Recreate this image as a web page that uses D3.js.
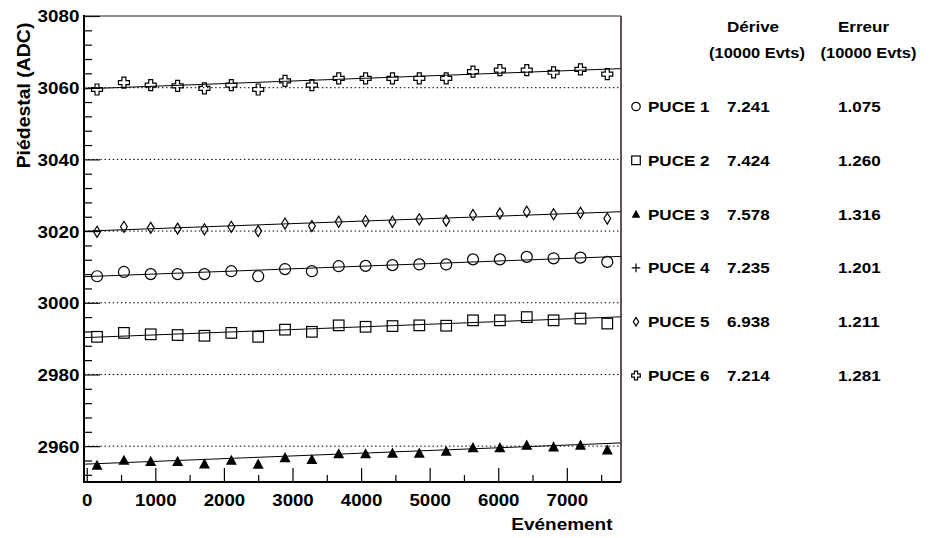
<!DOCTYPE html>
<html><head><meta charset="utf-8">
<script src="https://cdn.jsdelivr.net/npm/d3@7"></script>
<style>
html,body{margin:0;padding:0;background:#fff;}
text{font-family:"Liberation Sans",Arial,Helvetica,sans-serif;font-weight:bold;fill:#000;}
</style></head>
<body><svg id="c" width="930" height="538"></svg>
<script>
// ---- data ----
const events = [150, 542, 933, 1325, 1716, 2108, 2500, 2891, 3283, 3674, 4066, 4458, 4849, 5241, 5632, 6024, 6416, 6807, 7199, 7590];
const puce1 = [3007.4, 3008.6, 3008.0, 3008.0, 3008.0, 3008.8, 3007.4, 3009.4, 3008.8, 3010.2, 3010.3, 3010.5, 3010.7, 3010.7, 3012.1, 3012.1, 3012.8, 3012.4, 3012.6, 3011.4];
const puce2 = [2990.5, 2991.6, 2991.2, 2991.0, 2990.8, 2991.6, 2990.5, 2992.5, 2991.9, 2993.7, 2993.3, 2993.5, 2993.7, 2993.6, 2995.1, 2995.1, 2996.0, 2995.1, 2995.6, 2994.2];
const puce3 = [2954.7, 2956.1, 2955.8, 2955.8, 2955.1, 2956.1, 2955.0, 2956.8, 2956.3, 2957.9, 2957.9, 2958.1, 2958.1, 2958.6, 2959.6, 2959.6, 2960.3, 2959.8, 2960.3, 2959.0];
const puce5 = [3019.8, 3021.2, 3020.9, 3020.7, 3020.5, 3021.2, 3020.0, 3022.1, 3021.4, 3022.6, 3022.8, 3022.6, 3023.3, 3022.9, 3024.5, 3024.9, 3025.4, 3024.7, 3025.1, 3023.5];
const puce6 = [3059.5, 3061.4, 3060.7, 3060.5, 3059.8, 3060.7, 3059.5, 3061.9, 3060.7, 3062.6, 3062.6, 3062.6, 3062.6, 3062.6, 3064.5, 3064.9, 3064.9, 3064.3, 3065.1, 3063.8];
const puceNames = ["PUCE 1", "PUCE 2", "PUCE 3", "PUCE 4", "PUCE 5", "PUCE 6"];
const puceMarkers = ["circle", "square", "triangle", "plus", "diamond", "cross"];
const derive = [7.241, 7.424, 7.578, 7.235, 6.938, 7.214];
const erreur = [1.075, 1.260, 1.316, 1.201, 1.211, 1.281];
const fitIntercept = [3007.3, 2990.3, 2955.0, null, 3020.0, 3059.7];
const xMajorTicks = [0, 1000, 2000, 3000, 4000, 5000, 6000, 7000];
const yMajorTicks = [2960, 2980, 3000, 3020, 3040, 3060, 3080];
const headers = ["Dérive", "Erreur"];
const subHeader = "(10000 Evts)";
// ---------------

const svg = d3.select("#c");
const x = d3.scaleLinear().domain([-40, 7790]).range([84, 621]);
const y = d3.scaleLinear().domain([2950, 3080]).range([482, 16]);

function txt(g, px, py, s, size, anchor, sx) {
  return g.append("text")
    .attr("transform", `translate(${px},${py}) scale(${sx},1)`)
    .attr("font-size", size).attr("text-anchor", anchor).text(s);
}

function marker(g, type, cx, cy, s) {
  if (type === "circle") {
    g.append("circle").attr("cx", cx).attr("cy", cy).attr("r", s)
      .attr("fill", "none").attr("stroke", "#000").attr("stroke-width", 1.2);
  } else if (type === "square") {
    g.append("rect").attr("x", cx - s).attr("y", cy - s).attr("width", 2 * s).attr("height", 2 * s)
      .attr("fill", "none").attr("stroke", "#000").attr("stroke-width", 1.2);
  } else if (type === "triangle") {
    g.append("path").attr("d", `M${cx},${cy - s}L${cx + s},${cy + s * 0.85}L${cx - s},${cy + s * 0.85}Z`)
      .attr("fill", "#000");
  } else if (type === "diamond") {
    const w = s * 0.62;
    g.append("path").attr("d", `M${cx},${cy - s}L${cx + w},${cy}L${cx},${cy + s}L${cx - w},${cy}Z`)
      .attr("fill", "none").attr("stroke", "#000").attr("stroke-width", 1.2);
  } else if (type === "plus") {
    g.append("path").attr("d", `M${cx - s},${cy}H${cx + s}M${cx},${cy - s}V${cy + s}`)
      .attr("fill", "none").attr("stroke", "#000").attr("stroke-width", 1.2);
  } else if (type === "cross") {
    const a = s * 0.36;
    g.append("path").attr("d",
      `M${cx - a},${cy - s}H${cx + a}V${cy - a}H${cx + s}V${cy + a}H${cx + a}V${cy + s}H${cx - a}V${cy + a}H${cx - s}V${cy - a}H${cx - a}Z`)
      .attr("fill", "none").attr("stroke", "#000").attr("stroke-width", 1.2);
  }
}

// grid (dotted)
svg.append("g").selectAll("line").data(yMajorTicks.filter(v => v < 3080)).join("line")
  .attr("x1", x.range()[0]).attr("x2", x.range()[1])
  .attr("y1", d => y(d)).attr("y2", d => y(d))
  .attr("stroke", "#000").attr("stroke-width", 1).attr("stroke-dasharray", "1.5,2.6");

// fit lines
const series = [puce1, puce2, puce3, null, puce5, puce6];
const fitG = svg.append("g");
series.forEach((s, i) => {
  if (!s) return;
  const d0 = x.domain()[0], d1 = x.domain()[1];
  const f = v => fitIntercept[i] + derive[i] * v / 10000;
  fitG.append("line").attr("x1", x(d0)).attr("x2", x(d1))
    .attr("y1", y(f(d0))).attr("y2", y(f(d1)))
    .attr("stroke", "#000").attr("stroke-width", 1);
});

// markers
const markerSize = {circle: 5.5, square: 5.3, triangle: 5.5, diamond: 5.5, plus: 5, cross: 5.5};
const mg = svg.append("g");
series.forEach((s, i) => {
  if (!s) return;
  s.forEach((v, j) => marker(mg, puceMarkers[i], x(events[j]), y(v), markerSize[puceMarkers[i]]));
});

// axes
const fmt = d3.format("d");
const axG = svg.append("g");
const xAxis = d3.axisBottom(x).tickValues(xMajorTicks).tickFormat(fmt).tickSize(-14).tickSizeOuter(0).tickPadding(12);
const gx = axG.append("g").attr("transform", `translate(0,${y.range()[0]})`).call(xAxis);
gx.select(".domain").remove();
gx.selectAll("line").attr("stroke", "#000").attr("stroke-width", 1.2);
gx.selectAll("text").attr("font-size", 16.5).attr("font-family", null).attr("transform", "scale(1.13,1)");

const xMinor = d3.axisBottom(x).tickValues(d3.range(500, 7790, 1000)).tickSize(-7).tickSizeOuter(0).tickFormat("");
const gxm = axG.append("g").attr("transform", `translate(0,${y.range()[0]})`).call(xMinor);
gxm.select(".domain").remove();
gxm.selectAll("line").attr("stroke", "#000").attr("stroke-width", 1.2);

const yAxis = d3.axisLeft(y).tickValues(yMajorTicks).tickFormat(fmt).tickSize(-16).tickSizeOuter(0).tickPadding(4);
const gy = axG.append("g").attr("transform", `translate(${x.range()[0]},0)`).call(yAxis);
gy.select(".domain").remove();
gy.selectAll("line").attr("stroke", "#000").attr("stroke-width", 1.2);
gy.selectAll("text").attr("font-size", 16.5).attr("font-family", null).attr("dy", "0.36em").attr("transform", "scale(1.14,1)");

const yMinor = d3.axisLeft(y).tickValues(d3.range(2952, 3080, 4).filter(v => (v - 2960) % 20 !== 0)).tickSize(-8).tickSizeOuter(0).tickFormat("");
const gym = axG.append("g").attr("transform", `translate(${x.range()[0]},0)`).call(yMinor);
gym.select(".domain").remove();
gym.selectAll("line").attr("stroke", "#000").attr("stroke-width", 1.2);

// frame
const [X0, X1] = x.range(), [Y0, Y1] = y.range();
axG.append("line").attr("x1", X0).attr("x2", X1).attr("y1", Y1).attr("y2", Y1).attr("stroke", "#222").attr("stroke-width", 1.2);
axG.append("line").attr("x1", X1).attr("x2", X1).attr("y1", Y1).attr("y2", Y0).attr("stroke", "#2a1a1a").attr("stroke-width", 1.5);
axG.append("line").attr("x1", X0).attr("x2", X0).attr("y1", Y1 - 1).attr("y2", Y0 + 1).attr("stroke", "#000").attr("stroke-width", 2);
axG.append("line").attr("x1", X0 - 1).attr("x2", X1).attr("y1", Y0).attr("y2", Y0).attr("stroke", "#000").attr("stroke-width", 2);

// axis titles
txt(svg, 612.5, 530, "Evénement", 16.5, "end", 1.15);
svg.append("text").attr("transform", "translate(30,95.5) rotate(-90) scale(1.08,1)")
  .attr("font-size", 18).attr("text-anchor", "middle").text("Piédestal (ADC)");

// legend
const lg = svg.append("g");
const colDerive = 727, colErreur = 838;
txt(lg, colDerive, 32, headers[0], 15.5, "start", 1.1);
txt(lg, colErreur, 32, headers[1], 15.5, "start", 1.1);
txt(lg, 757, 58, subHeader, 15.5, "middle", 1.06);
txt(lg, 868.5, 58, subHeader, 15.5, "middle", 1.06);
puceNames.forEach((n, i) => {
  const by = 112 + i * 53.8;
  marker(lg, puceMarkers[i], 636, by - 5.5, puceMarkers[i] === "circle" ? 4.2 : 4.3);
  txt(lg, 648, by, n, 15.5, "start", 1.1);
  txt(lg, colDerive, by, derive[i].toFixed(3), 15.5, "start", 1.1);
  txt(lg, colErreur, by, erreur[i].toFixed(3), 15.5, "start", 1.1);
});
</script></body></html>
